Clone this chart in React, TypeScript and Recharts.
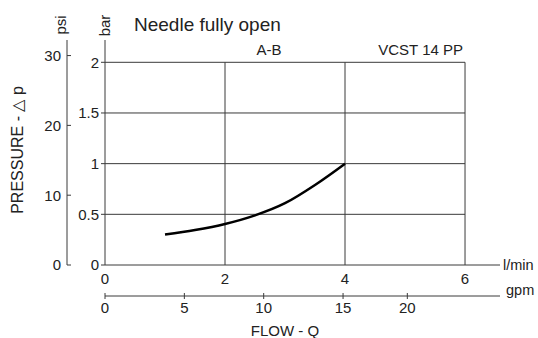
import React from 'react';
import { ComposedChart, Line, XAxis, YAxis, ReferenceLine } from 'recharts';

// Flow (l/min) and pressure drop (bar)
const flowLpm = [1.0, 1.5, 2.0, 2.5, 3.0, 3.5, 4.0];
const pressureBar = [0.3, 0.345, 0.405, 0.49, 0.61, 0.79, 1.0];

// axis ticks
const lpmTicks = [0, 2, 4, 6];
const barTicks = [0, 0.5, 1, 1.5, 2];
const psiTicks = [0, 10, 20, 30];
const gpmTickPos = [0, 5, 10, 15, 19.05];
const gpmTickLabels = ['0', '5', '10', '15', '20'];

// grid positions
const gridX = [2, 4, 6];
const gridY = [0.5, 1, 1.5, 2];

const data = flowLpm.map((q, i) => ({ q, p: pressureBar[i] }));

const INK = '#222';
const LINE = '#3a3a3a';
const FS = 15;

const PsiTick = (props: any) => {
  const { x, y, payload } = props;
  return (
    <g>
      <line x1={x + 6} x2={x + 10} y1={y} y2={y} stroke={LINE} />
      <text x={x} y={y} dy="0.36em" textAnchor="end" fontSize={FS} fill={INK}>
        {payload.value}
      </text>
    </g>
  );
};

const GpmTick = (props: any) => {
  const { x, y, payload } = props;
  const idx = gpmTickPos.indexOf(payload.value);
  return (
    <g>
      <line x1={x} x2={x} y1={y - 9} y2={y - 3} stroke={LINE} />
      <text x={x} y={y} dy="0.71em" textAnchor="middle" fontSize={FS} fill={INK}>
        {idx >= 0 ? gpmTickLabels[idx] : ''}
      </text>
    </g>
  );
};

export default function App() {
  return (
    <div
      style={{
        position: 'absolute',
        left: 0,
        top: 0,
        width: 538,
        height: 338,
        background: '#fff',
        fontFamily: '"Liberation Sans", Arial, sans-serif',
      }}
    >
      <ComposedChart
        width={538}
        height={338}
        data={data}
        margin={{ top: 40, right: 38, bottom: 0, left: 0 }}
      >
        <XAxis
          xAxisId="a_lpm"
          dataKey="q"
          type="number"
          domain={[0, 6.583]}
          ticks={lpmTicks}
          allowDataOverflow
          height={31}
          tickLine={false}
          tickSize={0}
          tickMargin={8}
          axisLine={{ stroke: LINE }}
          tick={{ fontSize: FS, fill: INK }}
          interval={0}
        />
        <XAxis
          xAxisId="b_gpm"
          dataKey="q"
          type="number"
          domain={[0, 24.89]}
          ticks={gpmTickPos}
          allowDataOverflow
          height={42}
          tickLine={false}
          tickSize={0}
          tickMargin={6}
          axisLine={{ stroke: LINE }}
          tick={<GpmTick />}
          interval={0}
        />
        <YAxis
          yAxisId="a_bar"
          type="number"
          domain={[0, 2.22]}
          ticks={barTicks}
          allowDataOverflow
          width={38}
          tickSize={4}
          tickMargin={2}
          tickLine={{ stroke: LINE }}
          axisLine={{ stroke: LINE }}
          tick={{ fontSize: FS, fill: INK }}
          interval={0}
        />
        <YAxis
          yAxisId="b_psi"
          type="number"
          domain={[0, 32.23]}
          ticks={psiTicks}
          allowDataOverflow
          width={67}
          tickLine={false}
          tickSize={0}
          tickMargin={6}
          axisLine={{ stroke: LINE }}
          tick={<PsiTick />}
          interval={0}
        />
        {gridY.map((v) => (
          <ReferenceLine
            key={'gy' + v}
            xAxisId="a_lpm"
            yAxisId="a_bar"
            segment={[
              { x: 0, y: v },
              { x: 6, y: v },
            ]}
            stroke={LINE}
            strokeWidth={1}
          />
        ))}
        {gridX.map((v) => (
          <ReferenceLine
            key={'gx' + v}
            xAxisId="a_lpm"
            yAxisId="a_bar"
            segment={[
              { x: v, y: 0 },
              { x: v, y: 2 },
            ]}
            stroke={LINE}
            strokeWidth={1}
          />
        ))}
        <Line
          xAxisId="a_lpm"
          yAxisId="a_bar"
          dataKey="p"
          type="monotone"
          stroke="#000"
          strokeWidth={2.5}
          dot={false}
          activeDot={false}
          isAnimationActive={false}
        />
      </ComposedChart>
      <svg
        width={538}
        height={338}
        style={{ position: 'absolute', left: 0, top: 0, pointerEvents: 'none' }}
      >
        <text x={134} y={30.5} fontSize={19} fill={INK}>Needle fully open</text>
        <text x={269} y={55} fontSize={FS} fill={INK} textAnchor="middle">A-B</text>
        <text x={463} y={55} fontSize={FS} fill={INK} textAnchor="end">VCST 14 PP</text>
        <text x={503} y={269.5} fontSize={14.5} fill={INK}>l/min</text>
        <text x={506} y={295} fontSize={14.5} fill={INK}>gpm</text>
        <text x={285} y={336} fontSize={FS} fill={INK} textAnchor="middle">FLOW - Q</text>
        <text
          x={66}
          y={25}
          fontSize={FS}
          fill={INK}
          textAnchor="middle"
          transform="rotate(-90 66 25)"
        >
          psi
        </text>
        <text
          x={110}
          y={25.5}
          fontSize={FS}
          fill={INK}
          textAnchor="middle"
          transform="rotate(-90 110 25.5)"
        >
          bar
        </text>
        <text
          x={23}
          y={150}
          fontSize={16}
          fill={INK}
          textAnchor="middle"
          transform="rotate(-90 23 150)"
        >
          PRESSURE - △ p
        </text>
      </svg>
    </div>
  );
}
